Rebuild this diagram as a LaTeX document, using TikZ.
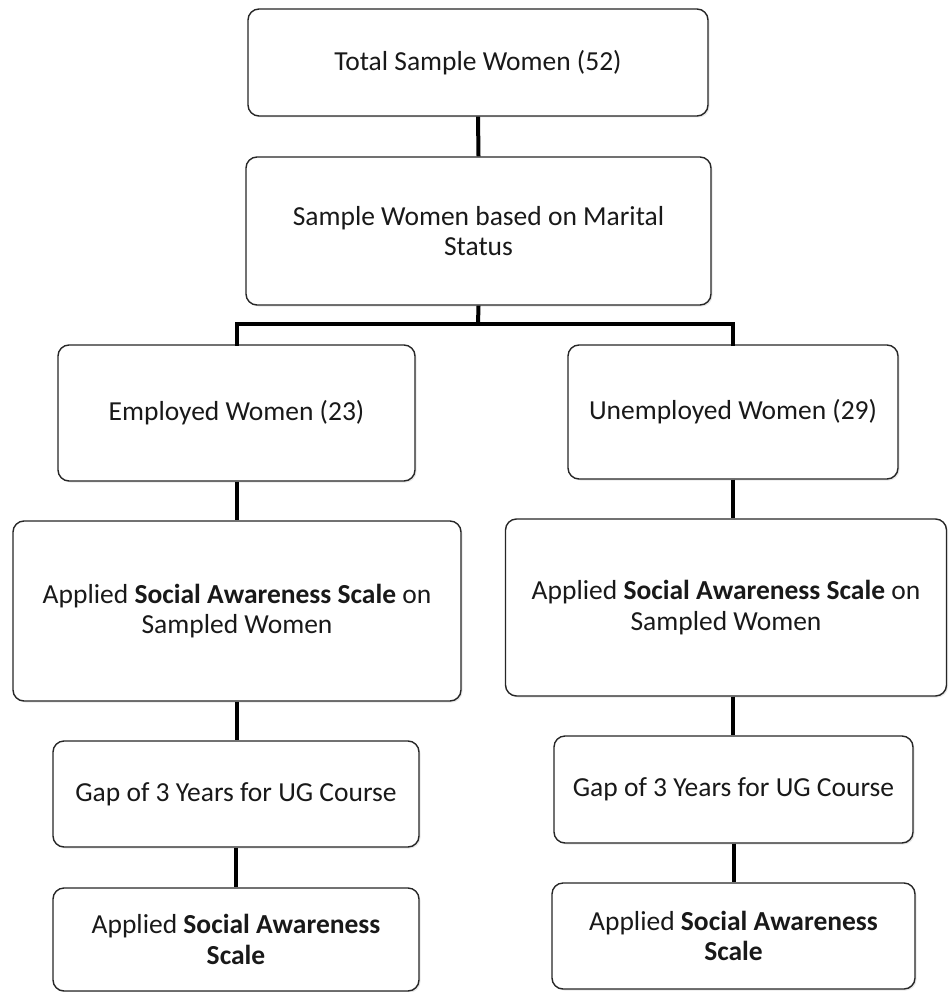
\documentclass[tikz,border=0pt]{standalone}
\usepackage{fontspec}
\setmainfont{Carlito}
\usetikzlibrary{shadows}
\begin{document}
\begin{tikzpicture}[x=1pt,y=1pt,
  box/.style={draw=black!85, line width=1.4pt, rounded corners=11pt, fill=white,
    align=center, inner sep=0pt, text=black!90,
    font=\fontsize{27.5}{30.5}\selectfont,
    drop shadow={opacity=0.18, shadow xshift=1.5pt, shadow yshift=-1.5pt}},
  link/.style={draw=black, line width=4pt}]
\useasboundingbox (0,0) rectangle (949,-992);
\node[box, minimum width=460, minimum height=107] (total) at (478,-62.5) {Total Sample Women (52)};
\node[box, minimum width=465, minimum height=148] (marital) at (478.5,-231) {Sample Women based on Marital\\Status};
\node[box, minimum width=357, minimum height=136] (emp) at (236.5,-413) {Employed Women (23)};
\node[box, minimum width=330, minimum height=134] (unemp) at (733,-412) {Unemployed Women (29)};
\node[box, minimum width=448, minimum height=180] (sasL) at (237,-611) {Applied \textbf{Social Awareness Scale} on\\Sampled Women};
\node[box, minimum width=441, minimum height=177] (sasR) at (726,-607.5) {Applied \textbf{Social Awareness Scale} on\\Sampled Women};
\node[box, minimum width=366, minimum height=106] (gapL) at (236,-794) {Gap of 3 Years for UG Course};
\node[box, minimum width=359, minimum height=107] (gapR) at (733.5,-789.5) {Gap of 3 Years for UG Course};
\node[box, minimum width=366, minimum height=103] (finL) at (236,-939.5) {Applied \textbf{Social Awareness}\\\textbf{Scale}};
\node[box, minimum width=363, minimum height=106] (finR) at (733.5,-936) {Applied \textbf{Social Awareness}\\\textbf{Scale}};
\coordinate (split) at (478,-324);
\draw[link] (total.south) -- (marital.north);
\draw[link] (marital.south) -- (split);
\draw[link, line cap=rect] (emp.north) -- (emp.north |- split) -- (unemp.north |- split) -- (unemp.north);
\draw[link] (emp.south) -- (emp.south |- sasL.north);
\draw[link] (sasL.south -| emp.south) -- (gapL.north -| emp.south);
\draw[link] (gapL.south) -- (finL.north);
\draw[link] (unemp.south) -- (unemp.south |- sasR.north);
\draw[link] (sasR.south -| unemp.south) -- (gapR.north -| unemp.south);
\draw[link] (gapR.south) -- (finR.north);
\end{tikzpicture}
\end{document}
